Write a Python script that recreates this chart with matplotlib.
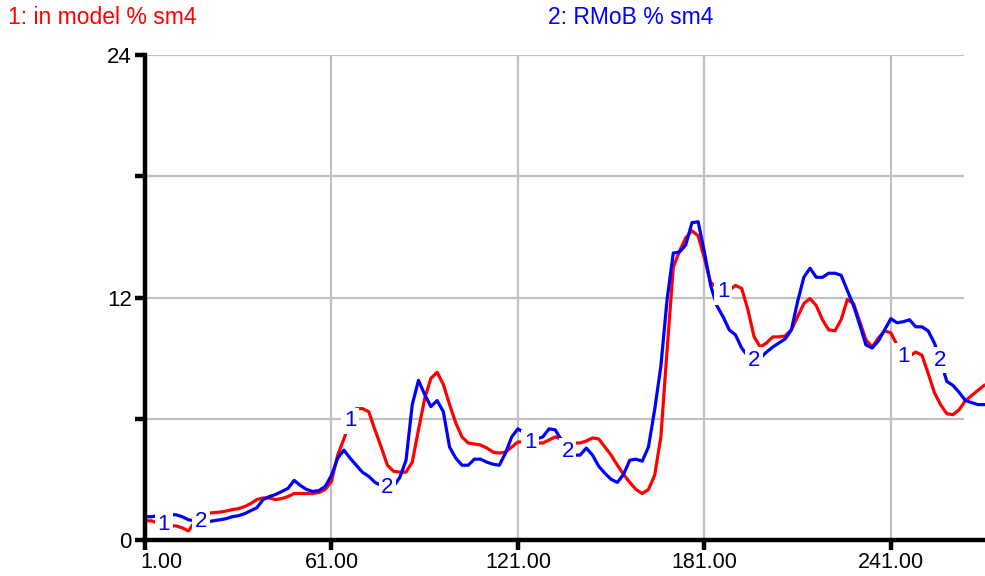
import numpy as np
import matplotlib
matplotlib.use("Agg")
import matplotlib.pyplot as plt
from matplotlib.transforms import ScaledTranslation

# time axis, one sample every 2 time units
t_start = 1
t_step = 2
xtick_vals = [61, 121, 181, 241]
xtick_labels = ["61.00", "121.00", "181.00", "241.00"]
ytick_vals = [0, 6, 12, 18, 24]
ytick_labels = ["0", "", "12", "", "24"]

# 1: in model % sm4
in_model = [
    0.95, 0.95, 0.85, 0.75, 0.70, 0.70, 0.60, 0.45, 0.90, 1.20,
    1.33, 1.35, 1.38, 1.43, 1.50, 1.55, 1.65, 1.80, 2.00, 2.08,
    2.08, 2.00, 2.05, 2.15, 2.30, 2.30, 2.30, 2.30, 2.35, 2.50,
    2.90, 4.20, 5.00, 5.90, 6.50, 6.50, 6.35, 5.45, 4.60, 3.70,
    3.40, 3.36, 3.36, 3.85, 5.45, 7.00, 8.00, 8.30, 7.70, 6.70,
    5.80, 5.10, 4.80, 4.75, 4.70, 4.55, 4.35, 4.30, 4.35, 4.60,
    4.85, 4.85, 4.80, 4.80, 4.80, 4.95, 5.10, 5.00, 4.85, 4.80,
    4.80, 4.90, 5.05, 5.00, 4.60, 4.20, 3.70, 3.25, 2.85, 2.50,
    2.30, 2.50, 3.20, 5.10, 9.40, 13.50, 14.30, 14.95, 15.30, 15.05,
    13.95, 12.75, 12.50, 12.30, 12.35, 12.60, 12.45, 11.40, 10.05, 9.55,
    9.75, 10.05, 10.05, 10.10, 10.40, 11.05, 11.70, 11.95, 11.60, 10.90,
    10.40, 10.35, 10.90, 11.90, 11.70, 10.80, 9.90, 9.55, 10.00, 10.35,
    10.25, 9.65, 9.10, 9.10, 9.30, 9.15, 8.25, 7.30, 6.70, 6.25,
    6.20, 6.45, 6.90, 7.15, 7.40, 7.65,
]

# 2: RMoB % sm4
rmob = [
    1.15, 1.15, 1.20, 1.20, 1.25, 1.25, 1.15, 1.00, 0.95, 0.90,
    0.90, 0.95, 1.00, 1.05, 1.15, 1.20, 1.30, 1.45, 1.60, 2.00,
    2.15, 2.25, 2.40, 2.55, 2.95, 2.70, 2.50, 2.40, 2.45, 2.65,
    3.20, 4.05, 4.45, 4.05, 3.70, 3.35, 3.15, 2.85, 2.70, 2.60,
    2.65, 3.10, 3.95, 6.70, 7.90, 7.20, 6.60, 6.90, 6.35, 4.60,
    4.05, 3.70, 3.70, 4.00, 4.00, 3.85, 3.75, 3.70, 4.30, 5.10,
    5.50, 5.30, 5.10, 5.00, 5.10, 5.50, 5.45, 4.95, 4.40, 4.20,
    4.20, 4.55, 4.20, 3.65, 3.30, 3.00, 2.85, 3.25, 3.95, 4.00,
    3.90, 4.60, 6.45, 8.60, 11.90, 14.20, 14.25, 14.60, 15.70, 15.75,
    14.25, 12.60, 11.60, 11.05, 10.40, 10.15, 9.50, 9.10, 8.90, 9.00,
    9.30, 9.55, 9.75, 9.95, 10.40, 11.80, 13.00, 13.45, 13.00, 13.00,
    13.20, 13.20, 13.10, 12.35, 11.60, 10.65, 9.65, 9.50, 9.85, 10.40,
    10.95, 10.75, 10.80, 10.90, 10.55, 10.55, 10.35, 9.75, 8.90, 7.85,
    7.65, 7.30, 6.90, 6.80, 6.70, 6.70,
]

# where the line numbers sit along each curve
label1_times = [7, 67, 125, 187, 245]
label2_times = [19, 79, 137, 197, 257]

RED = "#ff0000"
BLUE = "#0000ff"
GRID = "#c0c0c0"


def putLabels(ax, t, series, times, text):
    for tm in times:
        i = int(np.argmin(np.abs(t - tm)))
        ax.text(t[i], series[i], text, color=BLUE, fontsize=16,
                ha="center", va="center", zorder=5,
                bbox=dict(facecolor="white", edgecolor="none", pad=2))


def main():
    plt.rcParams["font.family"] = ["Liberation Sans", "DejaVu Sans"]
    t = t_start + t_step * np.arange(len(in_model))

    fig = plt.figure(figsize=(9.85, 5.76), dpi=100)
    ax = fig.add_axes([145 / 985, 36 / 576, 840 / 985, 485 / 576])

    ax.plot(t, in_model, color=RED, lw=2.3, zorder=3)
    ax.plot(t, rmob, color=BLUE, lw=2.3, zorder=3)

    putLabels(ax, t, in_model, label1_times, "1")
    putLabels(ax, t, rmob, label2_times, "2")

    ax.set_xlim(1, 271.3)
    ax.set_ylim(0, 24)

    # grid
    for yv in ytick_vals[1:]:
        ax.axhline(yv, xmax=0.974, color=GRID, lw=1.6, zorder=1)
    for xv in xtick_vals:
        ax.axvline(xv, color=GRID, lw=1.6, zorder=1)

    for side in ["top", "right"]:
        ax.spines[side].set_visible(False)
    for side in ["left", "bottom"]:
        ax.spines[side].set_linewidth(3.2)
        ax.spines[side].set_zorder(6)

    ax.set_xticks([1] + xtick_vals)
    ax.set_xticklabels(["1.00"] + xtick_labels, fontsize=15.5)
    ax.set_yticks(ytick_vals)
    ax.set_yticklabels(ytick_labels, fontsize=16)
    ax.tick_params(axis="both", length=7.5, width=3.2, color="black")
    ax.tick_params(axis="x", pad=1.5)
    ax.tick_params(axis="y", pad=2)

    first = ax.get_xticklabels()[0]
    first.set_horizontalalignment("left")
    first.set_transform(first.get_transform() + ScaledTranslation(-5 / 100, 0, fig.dpi_scale_trans))

    fig.text(8 / 985, 1 - 18 / 576, "1: in model % sm4", color=RED, fontsize=16.5, va="center")
    fig.text(548 / 985, 1 - 18 / 576, "2: RMoB % sm4", color=BLUE, fontsize=16.5, va="center")

    fig.savefig("out.png", dpi=100)


if __name__ == "__main__":
    main()
